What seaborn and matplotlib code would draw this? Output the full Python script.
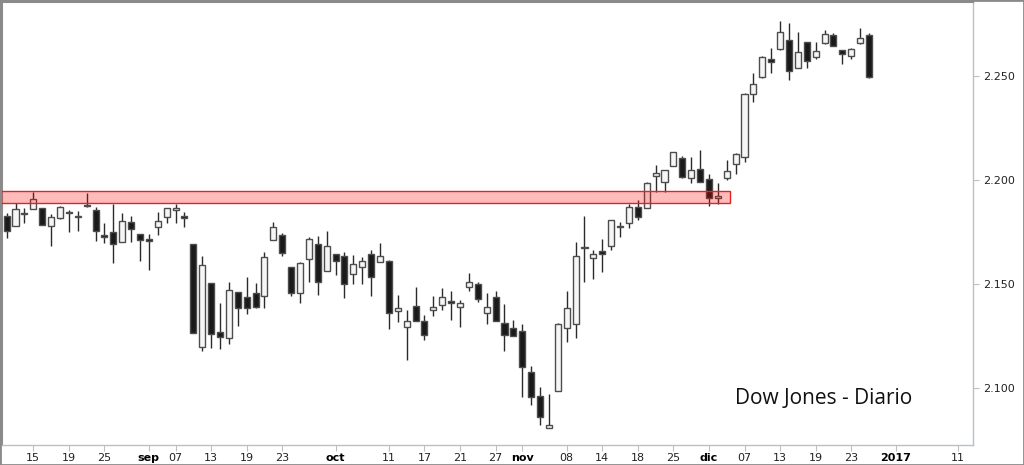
import pandas as pd
import matplotlib
matplotlib.use("Agg")
import matplotlib.pyplot as plt
import seaborn as sns
from matplotlib.patches import Rectangle

# trading calendar (US market holidays removed) + projected weekdays after the last bar
HOLIDAYS = ["2016-09-05", "2016-11-24", "2016-12-26"]
TRADING_DAYS = pd.bdate_range("2016-08-10", "2016-12-28").drop(pd.to_datetime(HOLIDAYS))
FUTURE_DAYS = pd.bdate_range("2016-12-29", "2017-01-13")

OPEN = [2182.8, 2178.0, 2183.8, 2186.2, 2186.4, 2178.0, 2181.9, 2184.5, 2182.0, 2188.1,
        2185.6, 2173.4, 2175.2, 2170.3, 2179.6, 2173.9, 2171.6, 2177.5, 2182.0, 2185.6,
        2182.8, 2169.2, 2119.8, 2150.3, 2126.7, 2124.1, 2146.2, 2143.5, 2145.8, 2144.0,
        2171.1, 2173.5, 2158.3, 2145.8, 2161.8, 2169.2, 2156.4, 2164.4, 2163.4, 2154.8,
        2158.1, 2164.4, 2160.5, 2161.2, 2137.0, 2129.1, 2139.4, 2132.3, 2137.4, 2139.8,
        2142.0, 2138.7, 2148.4, 2149.8, 2136.1, 2143.5, 2131.4, 2128.9, 2127.6, 2107.5,
        2096.2, 2080.8, 2098.5, 2128.9, 2130.6, 2167.5, 2162.6, 2165.8, 2168.2, 2177.8,
        2179.2, 2187.2, 2186.7, 2201.9, 2198.9, 2206.7, 2210.4, 2200.8, 2205.1, 2200.5,
        2191.5, 2200.8, 2207.7, 2210.9, 2241.2, 2249.4, 2258.2, 2262.9, 2267.4, 2253.8,
        2266.3, 2259.0, 2265.8, 2269.8, 2262.4, 2259.8, 2265.8, 2269.8]
HIGH = [2184.0, 2189.1, 2186.4, 2194.4, 2186.5, 2183.5, 2187.3, 2185.6, 2185.2, 2193.9,
        2186.9, 2179.2, 2188.3, 2184.0, 2182.7, 2174.1, 2174.0, 2184.7, 2186.8, 2188.3,
        2184.7, 2169.2, 2163.4, 2150.4, 2141.0, 2151.1, 2146.3, 2153.5, 2150.6, 2165.2,
        2179.6, 2174.3, 2158.4, 2160.7, 2172.4, 2173.1, 2175.6, 2164.5, 2165.5, 2163.9,
        2163.1, 2166.3, 2169.5, 2161.3, 2144.7, 2137.4, 2148.7, 2135.0, 2144.2, 2147.9,
        2146.7, 2142.2, 2155.1, 2151.1, 2145.5, 2146.6, 2140.2, 2132.6, 2130.7, 2110.5,
        2100.2, 2097.0, 2131.0, 2146.7, 2170.3, 2182.7, 2166.3, 2171.6, 2180.9, 2179.6,
        2188.3, 2190.4, 2199.2, 2207.2, 2204.9, 2213.7, 2211.5, 2211.2, 2214.4, 2202.9,
        2198.4, 2209.6, 2212.8, 2241.7, 2251.6, 2259.5, 2263.7, 2276.7, 2275.4, 2271.4,
        2266.6, 2266.6, 2272.2, 2270.6, 2262.5, 2263.6, 2273.4, 2270.6]
LOW = [2171.9, 2177.9, 2179.2, 2186.1, 2178.2, 2168.4, 2181.1, 2174.8, 2175.6, 2187.0,
       2170.8, 2169.5, 2160.2, 2170.2, 2170.3, 2161.2, 2156.7, 2173.5, 2179.2, 2179.2,
       2177.5, 2126.5, 2117.7, 2119.0, 2118.5, 2121.1, 2129.9, 2135.4, 2138.3, 2138.5,
       2171.0, 2163.6, 2144.2, 2141.0, 2151.1, 2144.7, 2156.0, 2154.5, 2143.4, 2149.8,
       2150.0, 2144.2, 2160.4, 2128.1, 2131.8, 2113.4, 2132.0, 2123.0, 2134.6, 2137.4,
       2132.6, 2129.1, 2146.6, 2141.3, 2130.7, 2132.0, 2117.8, 2124.8, 2095.7, 2091.7,
       2082.1, 2080.7, 2098.4, 2122.2, 2123.8, 2150.8, 2152.2, 2155.9, 2166.3, 2172.4,
       2176.8, 2180.8, 2186.6, 2194.4, 2194.4, 2206.6, 2200.8, 2198.4, 2199.0, 2187.5,
       2188.5, 2200.0, 2202.9, 2208.8, 2237.7, 2249.3, 2251.6, 2262.8, 2248.1, 2253.7,
       2254.0, 2258.1, 2265.7, 2264.4, 2255.7, 2258.5, 2265.7, 2249.0]
CLOSE = [2175.5, 2185.9, 2184.3, 2190.7, 2178.3, 2182.3, 2187.2, 2184.1, 2182.8, 2187.3,
         2175.5, 2172.4, 2169.2, 2180.4, 2176.3, 2171.1, 2170.8, 2180.3, 2186.7, 2186.4,
         2181.6, 2126.5, 2159.1, 2125.7, 2124.3, 2147.1, 2138.3, 2138.3, 2139.0, 2162.8,
         2177.2, 2164.7, 2145.5, 2159.9, 2171.6, 2150.8, 2168.2, 2161.2, 2150.0, 2159.6,
         2160.9, 2153.5, 2163.4, 2136.1, 2138.3, 2132.1, 2132.3, 2125.3, 2138.8, 2143.9,
         2141.0, 2140.7, 2150.8, 2142.6, 2138.7, 2132.3, 2125.3, 2124.9, 2110.2, 2095.7,
         2086.1, 2082.1, 2130.5, 2138.6, 2163.4, 2167.4, 2164.2, 2164.2, 2180.8, 2177.2,
         2187.2, 2182.0, 2198.4, 2203.2, 2204.8, 2213.6, 2201.6, 2204.8, 2199.2, 2191.5,
         2192.4, 2204.5, 2212.5, 2241.2, 2246.0, 2259.3, 2256.6, 2271.1, 2252.6, 2261.5,
         2257.4, 2261.9, 2270.2, 2264.5, 2260.6, 2263.0, 2268.2, 2249.4]

# resistance zone
ZONE_LOW, ZONE_HIGH = 2189.1, 2194.7
ZONE_END = "2016-12-05"

Y_TICKS = [2100, 2150, 2200, 2250]
TICK_DATES = ["2016-08-15", "2016-08-19", "2016-08-25", "2016-09-01", "2016-09-07",
              "2016-09-13", "2016-09-19", "2016-09-23", "2016-10-03", "2016-10-11",
              "2016-10-17", "2016-10-21", "2016-10-27", "2016-11-01", "2016-11-08",
              "2016-11-14", "2016-11-18", "2016-11-25", "2016-12-01", "2016-12-07",
              "2016-12-13", "2016-12-19", "2016-12-23", "2017-01-02", "2017-01-11"]
TICK_LABELS = ["15", "19", "25", "sep", "07", "13", "19", "23", "oct", "11", "17", "21",
               "27", "nov", "08", "14", "18", "25", "dic", "07", "13", "19", "23", "2017", "11"]
BOLD_LABELS = ["sep", "oct", "nov", "dic", "2017"]
TITLE = "Dow Jones - Diario"

df = pd.DataFrame({"date": TRADING_DAYS, "open": OPEN, "high": HIGH, "low": LOW, "close": CLOSE})
df["pos"] = range(len(df))
df["up"] = df["close"] >= df["open"]
all_days = list(TRADING_DAYS) + list(FUTURE_DAYS)
day_pos = {d: i for i, d in enumerate(all_days)}

sns.set_style("white")
fig = plt.figure(figsize=(10.24, 4.65), dpi=100)
ax = fig.add_axes([2 / 1024, 20 / 465, 971 / 1024, 443 / 465])

# wicks
ax.vlines(df["pos"], df["low"], df["high"], color="#2b2b2b", linewidth=1, zorder=2)
# bodies
bottoms = df[["open", "close"]].min(axis=1)
heights = (df["close"] - df["open"]).abs().clip(lower=0.35)
colors = df["up"].map({True: "#f6f6f6", False: "#1a1a1a"})
ax.bar(df["pos"], heights, bottom=bottoms, width=0.68, color=colors,
       edgecolor="#4d4d4d", linewidth=1, zorder=3)

zone_end = day_pos[pd.Timestamp(ZONE_END)] + 0.35
ax.add_patch(Rectangle((-5, ZONE_LOW), zone_end + 5, ZONE_HIGH - ZONE_LOW,
                       facecolor=(1, 0, 0, 0.27), edgecolor="#e02424", linewidth=1, zorder=4))

ax.set_xlim(-0.52, 108.7)
ax.set_ylim(2072.5, 2285.7)

ax.yaxis.tick_right()
ax.set_yticks(Y_TICKS)
ax.set_yticklabels([f"{v:,}".replace(",", ".") for v in Y_TICKS])
ax.tick_params(axis="y", length=4, color="#b8c0c8", labelsize=8, labelcolor="#222222", pad=3,
               right=True, left=False)

ax.set_xticks([day_pos[pd.Timestamp(d)] for d in TICK_DATES])
ax.set_xticklabels(TICK_LABELS)
ax.tick_params(axis="x", length=4, color="#b8c0c8", labelsize=8, labelcolor="#222222", pad=2,
               bottom=True)
for lbl in ax.get_xticklabels():
    if lbl.get_text() in BOLD_LABELS:
        lbl.set_fontweight("bold")
        lbl.set_color("#000000")

for side in ["right", "bottom"]:
    ax.spines[side].set_color("#b8c0c8")
    ax.spines[side].set_linewidth(1)
for side in ["top", "left"]:
    ax.spines[side].set_color("#8c8c8c")
    ax.spines[side].set_linewidth(1.5)

fig.text(735 / 1024, 1 - 398 / 465, TITLE, fontsize=15, family="Open Sans",
         color="#111111", ha="left", va="center")

fig.patches.append(Rectangle((0, 0), 1, 1, transform=fig.transFigure, fill=False,
                             edgecolor="#8a8a8a", linewidth=2))

fig.savefig("out.png", dpi=100)
plt.close()
